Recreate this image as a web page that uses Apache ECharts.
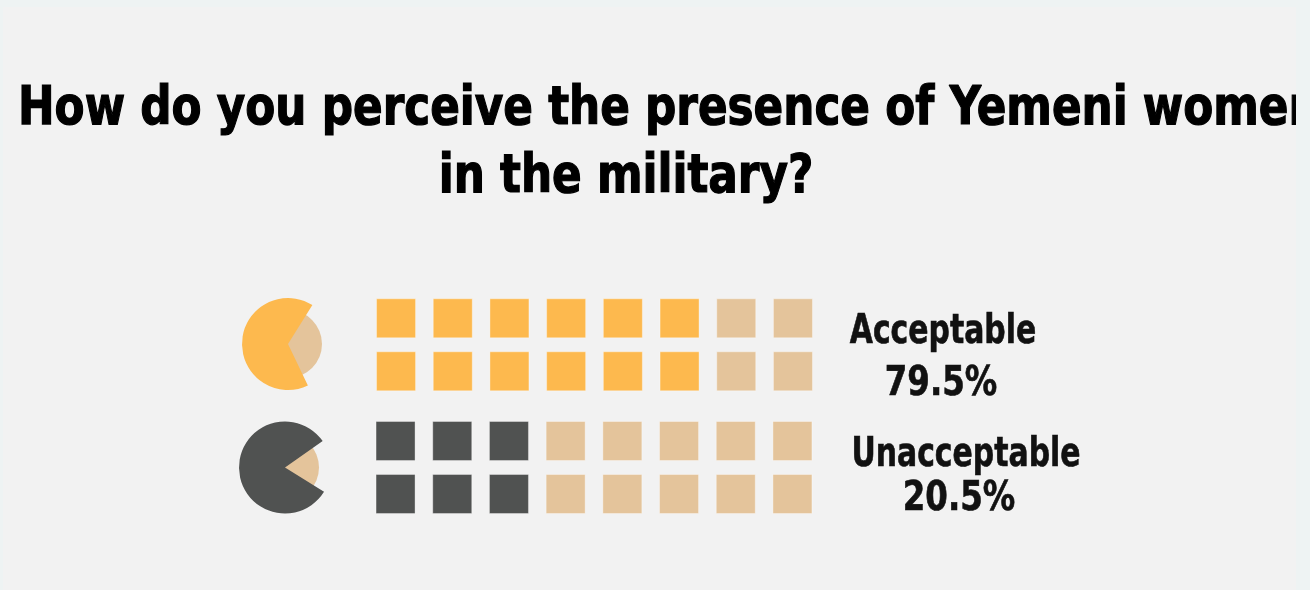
<!DOCTYPE html>
<html><head><meta charset="utf-8">
<script src="https://cdn.jsdelivr.net/npm/echarts@6/dist/echarts.min.js"></script>
<style>html,body{margin:0;padding:0;background:#eef3f3}#c{width:1310px;height:590px}</style>
</head><body><div id="c"></div><script>
// ---- data ----
const titleLines = ['How do you perceive the presence of Yemeni women', 'in the military?'];
const categories = ['Acceptable', 'Unacceptable'];
const percentages = [79.5, 20.5];
const waffleTotal = 16;          // squares per group (8 columns x 2 rows)
const waffleFilled = [12, 6];    // squares in the main colour
const iconShares = [66, 81.4];   // share of each pie icon drawn in main colour
const mainColors = ['#fdb94e', '#505251'];
const restColor = '#e4c49b';

// ---- layout ----
const FONT = "'DejaVu Sans Condensed', 'DejaVu Sans', sans-serif";
const iconCenters = [[288, 344], [285, 467.5]];
const iconStart = [58, 35];
const gridTops = [291.8, 414.5];
const gridLefts = [367.7, 367.2];
const labelX = [943, 966];
const pctX = [941, 959];
const labelY = [353, 476];
const pctY = [405, 520];

const chart = echarts.init(document.getElementById('c'), null, {renderer: 'canvas'});

const grids = [], xAxes = [], yAxes = [], series = [];
categories.forEach((cat, i) => {
  grids.push({left: gridLefts[i], top: gridTops[i], width: 453.6, height: 106});
  xAxes.push({type: 'value', gridIndex: i, min: -0.5, max: 7.5, show: false});
  yAxes.push({type: 'value', gridIndex: i, min: -0.5, max: 1.5, inverse: true, show: false});
  const pts = [];
  for (let k = 0; k < waffleTotal; k++) {
    const col = Math.floor(k / 2), row = k % 2;
    pts.push({value: [col, row], itemStyle: {color: k < waffleFilled[i] ? mainColors[i] : restColor}});
  }
  series.push({
    type: 'scatter', xAxisIndex: i, yAxisIndex: i, symbol: 'rect', symbolSize: 39,
    itemStyle: {borderColor: 'rgba(255,255,255,0.35)', borderWidth: 1, opacity: 1},
    data: pts, silent: true, emphasis: {disabled: true}
  });
  series.push({
    type: 'pie', center: iconCenters[i], radius: 34, silent: true, label: {show: false},
    labelLine: {show: false}, emphasis: {disabled: true},
    data: [{value: 1, itemStyle: {color: restColor}}]
  });
  series.push({
    type: 'pie', center: iconCenters[i], radius: 46, startAngle: iconStart[i], clockwise: false,
    silent: true, label: {show: false}, labelLine: {show: false}, emphasis: {disabled: true},
    data: [
      {value: iconShares[i], itemStyle: {color: mainColors[i]}},
      {value: 100 - iconShares[i], itemStyle: {color: 'rgba(0,0,0,0)'}}
    ]
  });
});

const graphic = [
  {type: 'rect', shape: {x: 3, y: 7, width: 1293, height: 590}, style: {fill: '#f2f2f2'}, z: -10, silent: true},
  {type: 'text', x: 18, y: 137, scaleX: 0.9, z: 1, style: {text: titleLines[0], font: `bold 54px ${FONT}`, fill: '#000', stroke: '#000', lineWidth: 1.2, textAlign: 'left', textVerticalAlign: 'bottom'}},
  {type: 'text', x: 626, y: 205, scaleX: 0.9, z: 1, style: {text: titleLines[1], font: `bold 54px ${FONT}`, fill: '#000', stroke: '#000', lineWidth: 1.2, textAlign: 'center', textVerticalAlign: 'bottom'}},
  {type: 'rect', shape: {x: 1296, y: 0, width: 14, height: 590}, style: {fill: '#eef3f3'}, z: 5, silent: true}
];
categories.forEach((cat, i) => {
  graphic.push({type: 'text', x: labelX[i], y: labelY[i], scaleX: 0.83, style: {text: cat, font: `bold 40px ${FONT}`, fill: '#111', stroke: '#111', lineWidth: 0.6, textAlign: 'center', textVerticalAlign: 'bottom'}});
  graphic.push({type: 'text', x: pctX[i], y: pctY[i], scaleX: 0.9, style: {text: percentages[i] + '%', font: `bold 40px ${FONT}`, fill: '#111', stroke: '#111', lineWidth: 0.6, textAlign: 'center', textVerticalAlign: 'bottom'}});
});

chart.setOption({
  backgroundColor: '#eef3f3',
  animation: false,
  grid: grids, xAxis: xAxes, yAxis: yAxes, series: series, graphic: graphic
});
</script></body></html>
